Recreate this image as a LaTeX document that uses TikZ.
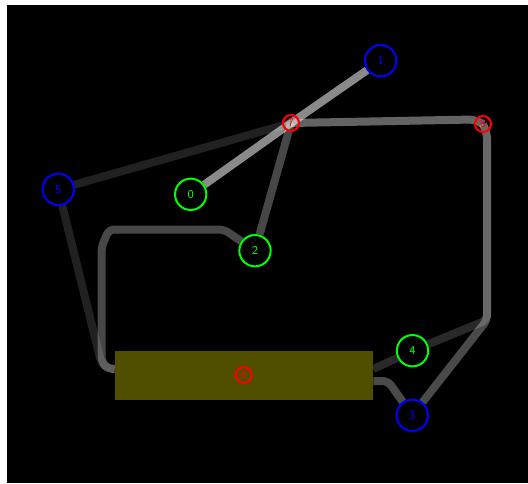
\documentclass[tikz,border=0pt]{standalone}
\usepackage{tikz}
\usetikzlibrary{calc, backgrounds}

\definecolor{boxolive}{RGB}{80,79,0}

\begin{document}
\begin{tikzpicture}[x=0.75pt, y=-0.75pt,
  bignode/.style={draw, circle, line width=1.5pt, minimum size=23.5pt, inner sep=0pt, font=\sffamily\fontsize{9}{9}\selectfont},
  smallnode/.style={draw=red, text=red, circle, line width=1.6pt, minimum size=12pt, inner sep=0pt, font=\sffamily\fontsize{8.5}{8.5}\selectfont},
  link/.style={draw=white, line width=6pt, line join=round, rounded corners=4pt}]
\useasboundingbox (0,0) rectangle (528,483);

\node[fill=boxolive, minimum width=193.5pt, minimum height=36.75pt, inner sep=0pt] (box6) at (244,375.5) {};

\node[bignode, draw=green, text=green] (n0) at (190.7,194.3) {0};
\node[bignode, draw=blue, text=blue] (n1) at (380.7,60.7) {1};
\node[bignode, draw=green, text=green] (n2) at (255,250.7) {2};
\node[bignode, draw=blue, text=blue] (n3) at (412.3,415.3) {3};
\node[bignode, draw=green, text=green] (n4) at (412.5,350.7) {4};
\node[bignode, draw=blue, text=blue] (n5) at (58.3,189.3) {5};
\node[smallnode] (n6) at (243.7,375) {6};
\node[smallnode] (n7) at (291,123) {7};
\node[smallnode] (n8) at (483,124) {8};

\begin{scope}[on background layer]
\fill[white] (0,0) rectangle (528,483);
\fill[black] (7,5) rectangle (528,483);

\draw[link, draw opacity=0.13] (n5) -- (n7.center);
\draw[link, draw opacity=0.13] (n5) -- (101,362) -- (107,368.5) -- ($(box6.west)+(0,-6.5)$);
\draw[link, draw opacity=0.28] (n2) -- (n7.center);
\draw[link, draw opacity=0.28] (n2) -- (224,229.5) -- (109,229.5) -- (101.5,247) -- (101.5,361) -- (107,368.5) -- ($(box6.west)+(0,-6.5)$);
\draw[link, draw opacity=0.39] (n7.center) -- (474,119.5) -- (n8.center);
\draw[link, draw opacity=0.29] (n8.center) -- (487,134) -- (487,320) -- (n3);
\draw[link, draw opacity=0.16] (n8.center) -- (487,134) -- (487,320) -- (n4);
\draw[link, draw opacity=0.16] ($(box6.east)+(0,-6.5)$) -- (n4);
\draw[link, draw opacity=0.29] ($(box6.east)+(0,5.5)$) -- (388,381) -- (n3);
\draw[link, draw opacity=0.54] (n0) -- (n7.center);
\draw[link, draw opacity=0.54] (n7.center) -- (n1);
\end{scope}
\end{tikzpicture}
\end{document}
